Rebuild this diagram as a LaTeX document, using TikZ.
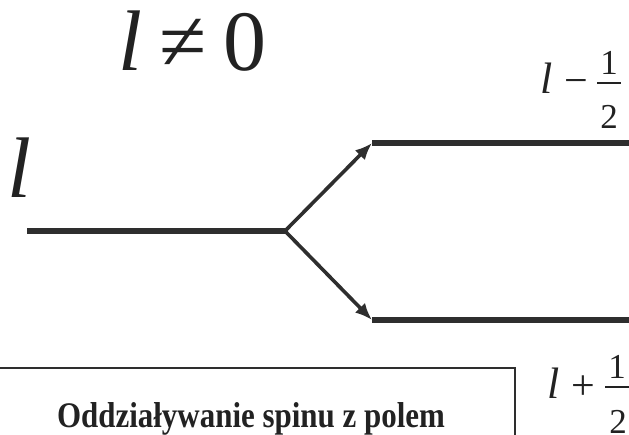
\documentclass[tikz,border=0pt]{standalone}
\usepackage{fontspec}
\usepackage{graphicx}
\setmainfont{Liberation Serif}
\usetikzlibrary{arrows.meta}
\definecolor{ink}{HTML}{2E2E2E}
\definecolor{txt}{HTML}{222222}
\tikzset{
  level/.style={line width=5.5pt, draw=ink},
  branch/.style={line width=3.6pt, draw=ink, -{Latex[length=17pt,width=14pt]}},
  glyph/.style={inner sep=0pt, outer sep=0pt, anchor=base west, text=txt},
  digit/.style={inner sep=0pt, outer sep=0pt, anchor=base, text=txt, font=\fontsize{35}{35}\selectfont},
  fracbar/.style={line width=1.8pt, draw=txt},
  frame/.style={line width=1.6pt, draw=ink}
}
\begin{document}
\begin{tikzpicture}[x=1pt,y=-1pt]
\useasboundingbox (0,0) rectangle (629,434);
% title
\node[glyph, font=\fontsize{86}{86}\selectfont] (cond) at (118,70) {\itshape l\upshape\hspace{0.2em}≠\hspace{0.2em}0};
\node[glyph, font=\fontsize{86}{86}\selectfont] (lvl) at (8,197) {\itshape l};
% levels
\coordinate (lstart) at (27,231);
\coordinate (split) at (285,231);
\coordinate (upL) at (372,143);
\coordinate (upR) at (635,143);
\coordinate (dnL) at (372,320);
\coordinate (dnR) at (635,320);
\draw[level] (lstart) -- (split);
\draw[level] (upL) -- (upR);
\draw[level] (dnL) -- (dnR);
\draw[branch] (split) -- (upL);
\draw[branch] (split) -- (dnL);
% upper label l - 1/2
\node[glyph, font=\fontsize{44}{44}\selectfont] (tl) at (540,93) {\itshape l};
\node[glyph, font=\fontsize{42}{42}\selectfont] (tm) at (564,94) {−};
\coordinate (tb1) at (597,83);
\coordinate (tb2) at (621,83);
\draw[fracbar] (tb1) -- (tb2);
\node[digit] (tn) at (609,74) {1};
\node[digit] (td) at (609,128) {2};
% lower label l + 1/2
\node[glyph, font=\fontsize{44}{44}\selectfont] (bl) at (547,398) {\itshape l};
\node[glyph, font=\fontsize{42}{42}\selectfont] (bp) at (571,399) {+};
\coordinate (bb1) at (605,387);
\coordinate (bb2) at (635,387);
\draw[fracbar] (bb1) -- (bb2);
\node[digit] (bn) at (617,378) {1};
\node[digit] (bd) at (618,433) {2};
% caption box
\coordinate (boxA) at (-5,368);
\coordinate (boxB) at (515,445);
\draw[frame] (boxA) rectangle (boxB);
\node[inner sep=0pt, anchor=base, text=txt, font=\fontsize{36}{36}\selectfont\bfseries] (caption) at (251,427) {\scalebox{0.86}[1]{Oddziaływanie spinu z polem}};
\end{tikzpicture}
\end{document}
